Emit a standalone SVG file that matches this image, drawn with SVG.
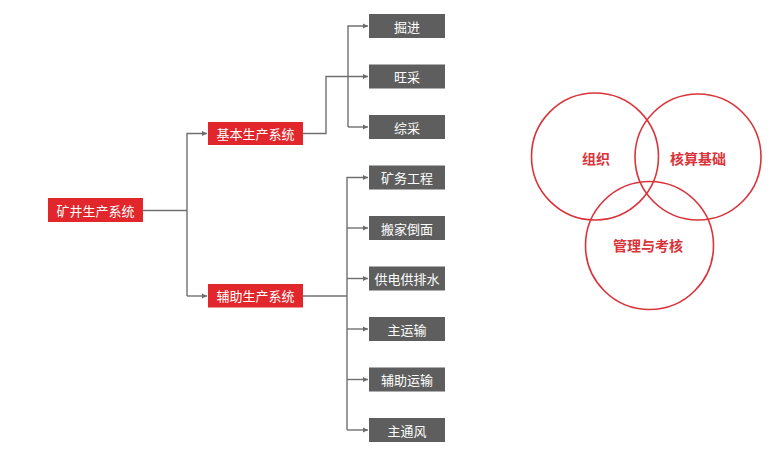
<svg xmlns="http://www.w3.org/2000/svg" width="780" height="453" viewBox="0 0 780 453">
<defs>
<marker id="ah" markerWidth="6" markerHeight="6" refX="5" refY="3" orient="auto" markerUnits="userSpaceOnUse">
<path d="M0,0.5 L5,3 L0,5.5 Z" fill="#6b6b6b"/>
</marker>
<style>
.red{fill:#e1262c}
.gray{fill:#5e5e5e}
.bt{fill:#fff;font-family:"Noto Sans CJK SC","Noto Sans",sans-serif;font-size:13px;text-anchor:middle;dominant-baseline:central}
.ln{fill:none;stroke:#707070;stroke-width:1.4}
.cir{fill:none;stroke:#d9343a;stroke-width:1.6}
.ct{fill:#d9343a;font-family:"Noto Sans CJK SC","Noto Sans",sans-serif;font-size:14px;font-weight:bold;text-anchor:middle;dominant-baseline:central}
</style>
</defs>
<rect width="780" height="453" fill="#fff"/>
<g id="connectors">
<path class="ln" d="M143,210.5 H187"/>
<path class="ln" d="M187,296 V133.5 H207" marker-end="url(#ah)"/>
<path class="ln" d="M187,296 H207" marker-end="url(#ah)"/>
<path class="ln" d="M303,133.5 H326 V76.5 H368" marker-end="url(#ah)"/>
<path class="ln" d="M348,127 V26 H368" marker-end="url(#ah)"/>
<path class="ln" d="M348,127 H368" marker-end="url(#ah)"/>
<path class="ln" d="M303,296 H347"/>
<path class="ln" d="M347,430 V177.5 H368" marker-end="url(#ah)"/>
<path class="ln" d="M347,228 H368" marker-end="url(#ah)"/>
<path class="ln" d="M347,278.5 H368" marker-end="url(#ah)"/>
<path class="ln" d="M347,329 H368" marker-end="url(#ah)"/>
<path class="ln" d="M347,379.5 H368" marker-end="url(#ah)"/>
<path class="ln" d="M347,430 H368" marker-end="url(#ah)"/>
</g>
<g id="root"><rect class="red" x="48" y="198" width="95" height="24"/><text class="bt" x="95.5" y="210">矿井生产系统</text></g>
<g id="basic"><rect class="red" x="208" y="122" width="95" height="23"/><text class="bt" x="255.5" y="133.5">基本生产系统</text></g>
<g id="aux"><rect class="red" x="208" y="284" width="95" height="23.5"/><text class="bt" x="255.5" y="295.5">辅助生产系统</text></g>
<g id="n1"><rect class="gray" x="369" y="14" width="76" height="24"/><text class="bt" x="407" y="26">掘进</text></g>
<g id="n2"><rect class="gray" x="369" y="64.5" width="76" height="24"/><text class="bt" x="407" y="76.5">旺采</text></g>
<g id="n3"><rect class="gray" x="369" y="115" width="76" height="24"/><text class="bt" x="407" y="127">综采</text></g>
<g id="n4"><rect class="gray" x="369" y="165.5" width="76" height="24"/><text class="bt" x="407" y="177.5">矿务工程</text></g>
<g id="n5"><rect class="gray" x="369" y="216" width="76" height="24"/><text class="bt" x="407" y="228">搬家倒面</text></g>
<g id="n6"><rect class="gray" x="369" y="266.5" width="76" height="24"/><text class="bt" x="407" y="278.5">供电供排水</text></g>
<g id="n7"><rect class="gray" x="369" y="317" width="76" height="24"/><text class="bt" x="407" y="329">主运输</text></g>
<g id="n8"><rect class="gray" x="369" y="367.5" width="76" height="24"/><text class="bt" x="407" y="379.5">辅助运输</text></g>
<g id="n9"><rect class="gray" x="369" y="418" width="76" height="24"/><text class="bt" x="407" y="430">主通风</text></g>
<g id="venn">
<circle class="cir" cx="595" cy="156.5" r="63.5"/>
<circle class="cir" cx="698" cy="157" r="63"/>
<circle class="cir" cx="649.5" cy="245.5" r="64"/>
<text class="ct" x="596" y="158">组织</text>
<text class="ct" x="698" y="158">核算基础</text>
<text class="ct" x="648" y="245">管理与考核</text>
</g>
</svg>
